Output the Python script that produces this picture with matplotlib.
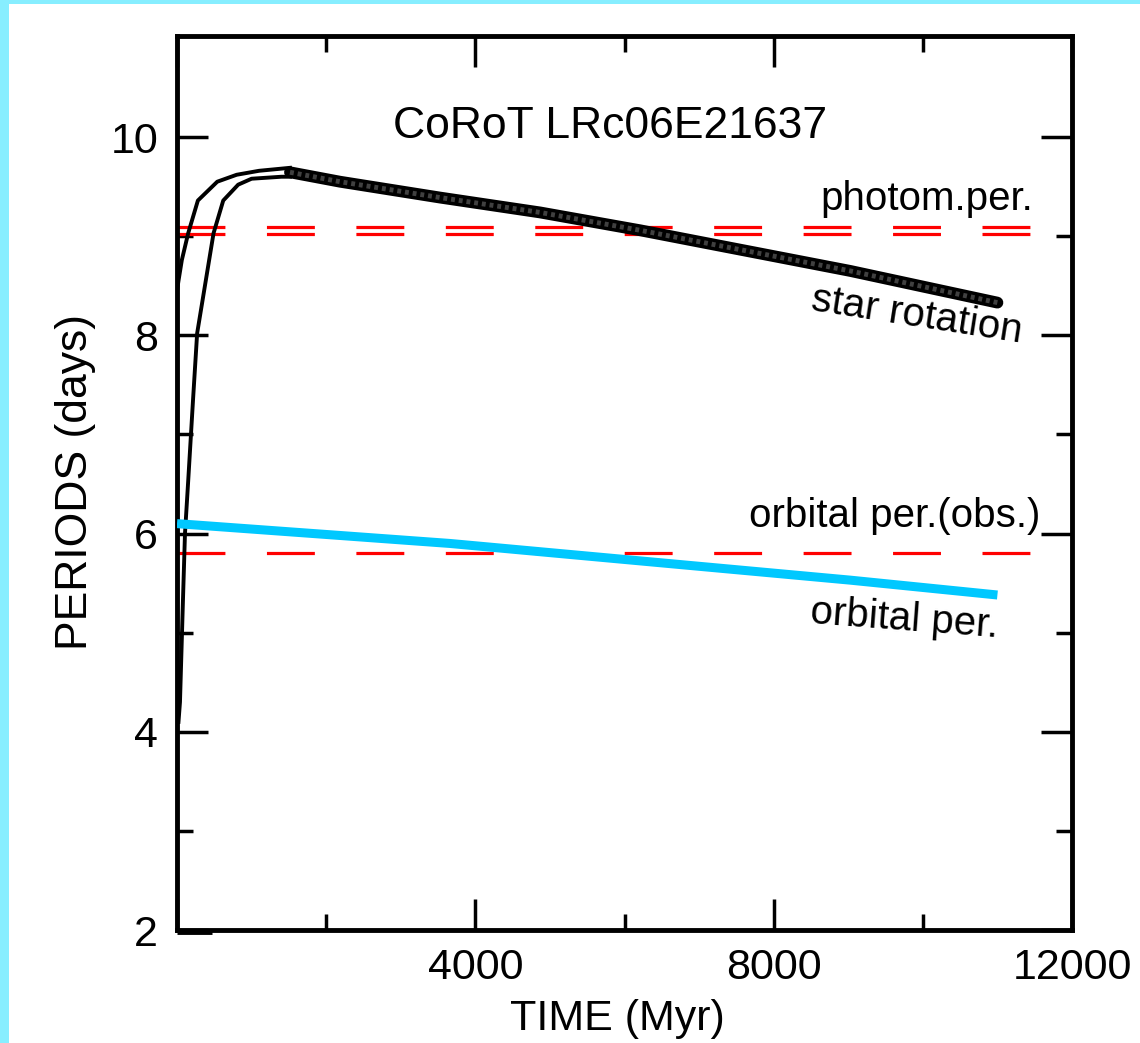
import matplotlib
matplotlib.use("Agg")
import matplotlib.pyplot as plt
from matplotlib.patches import Rectangle
from matplotlib.ticker import FixedLocator

plt.rcParams['font.family'] = ['Liberation Sans', 'DejaVu Sans']

# -----------------------------
# data
# -----------------------------

# stellar rotation, two early tracks (Myr, days)
rot_a_t = [0, 20, 65, 150, 280, 540, 800, 1100, 1515]
rot_a_p = [8.45, 8.55, 8.76, 9.03, 9.36, 9.55, 9.62, 9.66, 9.69]
rot_b_t = [20, 40, 80, 107, 150, 215, 270, 490, 620, 820, 1000, 1400, 1515]
rot_b_p = [4.1, 4.3, 5.33, 6.0, 6.53, 7.35, 8.02, 9.03, 9.36, 9.52, 9.58, 9.60, 9.60]

# merged rotation band
band_t = [1515, 2185, 3526, 4867, 6208, 7100, 9025, 11000]
band_p = [9.645, 9.55, 9.39, 9.24, 9.06, 8.93, 8.65, 8.33]

# orbital period track
orb_t = [0, 3660, 9025, 11000]
orb_p = [6.10, 5.90, 5.53, 5.38]

# short segment at the bottom left corner
low_t = [0, 470]
low_p = [1.98, 1.98]

# observed periods
photom_per = [9.09, 9.02]
orbital_obs = 5.80
obs_span = [0, 11437]

x_major = [0, 4000, 8000, 12000]
x_minor = [2000, 6000, 10000]
x_labels = ["", "4000", "8000", "12000"]
y_major = [2, 4, 6, 8, 10]
y_minor = [3, 5, 7, 9]

# -----------------------------
# figure
# -----------------------------

fig = plt.figure(figsize=(11.40, 10.43), dpi=100)
fig.patch.set_facecolor("white")
fig.add_artist(Rectangle((0, 0), 9 / 1140, 1, transform=fig.transFigure,
                         color="#87EEFF", lw=0))
fig.add_artist(Rectangle((0, 1 - 4 / 1043), 1, 4 / 1043, transform=fig.transFigure,
                         color="#87EEFF", lw=0))

ax = fig.add_axes([177 / 1140, 1 - 930 / 1043, 895 / 1140, 894 / 1043])
ax.set_xlim(0, 12000)
ax.set_ylim(2, 11.02)

red_dash = dict(color="#FF0000", lw=2.3, dashes=(15.0, 13.0), zorder=2)
for p in photom_per:
    ax.plot(obs_span, [p, p], **red_dash)
ax.plot(obs_span, [orbital_obs, orbital_obs], **red_dash)

# rotation curves
ax.plot(rot_a_t, rot_a_p, color="black", lw=2.8, zorder=3)
ax.plot(rot_b_t, rot_b_p, color="black", lw=2.8, zorder=3)
ax.plot(band_t, band_p, color="black", lw=8.5, solid_capstyle="round", zorder=3)
ax.plot(band_t, band_p, color="#404040", lw=3.5, dashes=(0.8, 0.8), zorder=3)

# orbital period
ax.plot(orb_t, orb_p, color="#00C8FF", lw=6.5, solid_capstyle="butt", zorder=4)

ax.plot(low_t, low_p, color="black", lw=3.5, solid_capstyle="butt", clip_on=False, zorder=5)

# -----------------------------
# labels
# -----------------------------

ax.text(5806, 9.99, "CoRoT LRc06E21637", fontsize=32, ha="center", va="baseline")
ax.text(11477, 9.26, "photom.per.", fontsize=29, ha="right", va="baseline")
ax.text(11571, 6.065, "orbital per.(obs.)", fontsize=29, ha="right", va="baseline")
ax.text(8487, 8.254, "star rotation", fontsize=29, ha="left", va="baseline",
        rotation=-8.8, rotation_mode="anchor")
ax.text(8487, 5.096, "orbital per.", fontsize=29, ha="left", va="baseline",
        rotation=-4.3, rotation_mode="anchor")

ax.set_xlabel("TIME (Myr)", fontsize=31, va="baseline")
ax.xaxis.set_label_coords(0.4916, -0.1119)
ax.set_ylabel("PERIODS (days)", fontsize=32, va="baseline")
ax.yaxis.set_label_coords(-0.1005, 0.501)

# -----------------------------
# axes styling
# -----------------------------

ax.xaxis.set_major_locator(FixedLocator(x_major))
ax.xaxis.set_minor_locator(FixedLocator(x_minor))
ax.set_xticklabels(x_labels)
ax.yaxis.set_major_locator(FixedLocator(y_major))
ax.yaxis.set_minor_locator(FixedLocator(y_minor))
ax.set_yticklabels([str(v) for v in y_major])

ax.tick_params(which="both", direction="in", top=True, right=True, width=2.5,
               color="black", labelsize=31)
ax.tick_params(which="major", length=22)
ax.tick_params(which="minor", length=11.5)
ax.tick_params(axis="x", which="major", pad=13)
ax.tick_params(axis="y", which="major", pad=13.5)

for s in ax.spines.values():
    s.set_linewidth(3.5)

fig.savefig("out.png", dpi=100)
